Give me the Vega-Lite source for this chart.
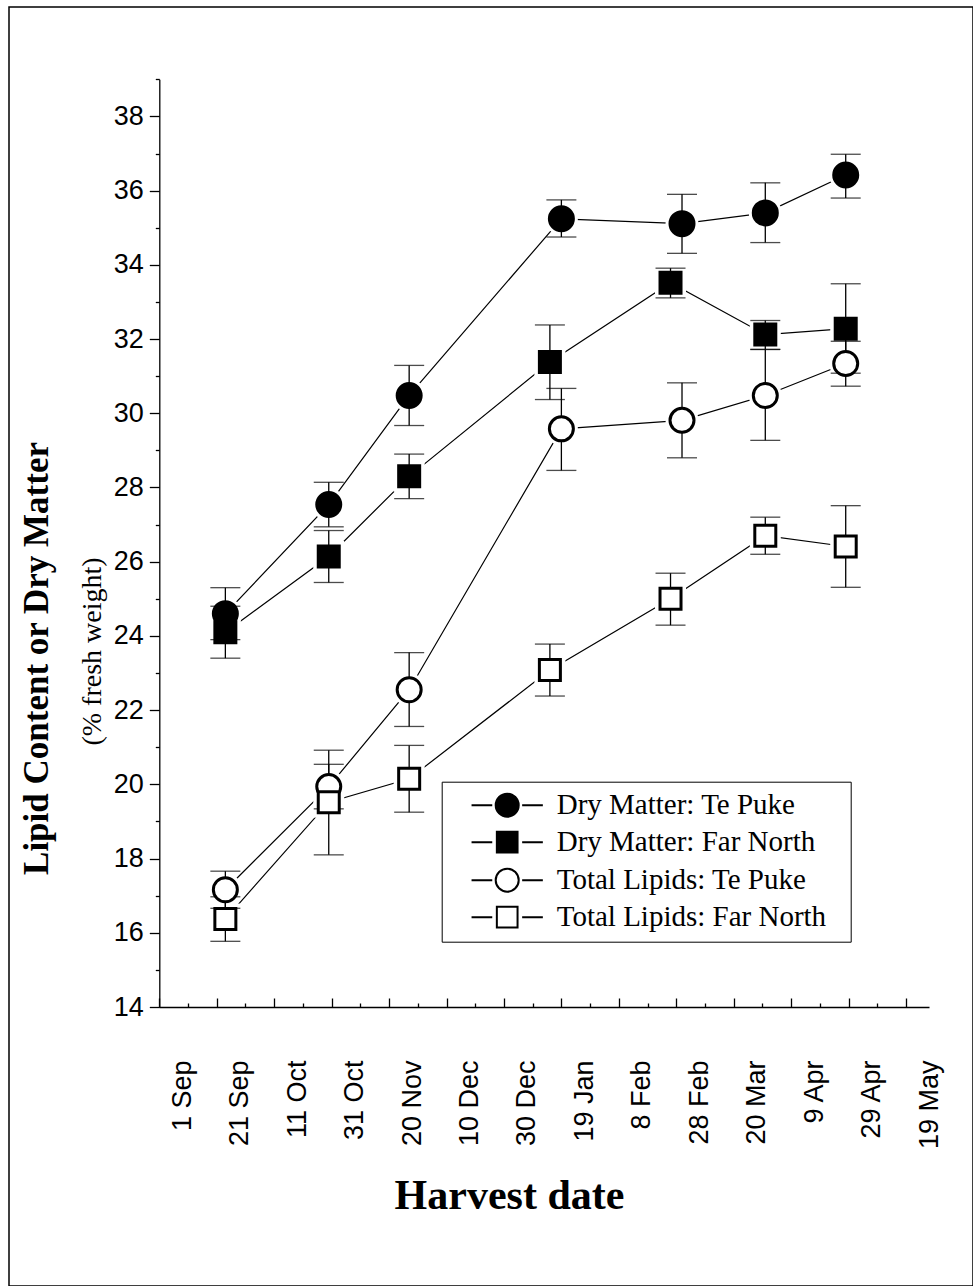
{
  "$schema": "https://vega.github.io/schema/vega-lite/v6.json",
  "width": 964,
  "height": 1279,
  "autosize": {"type": "none"},
  "padding": {"left": 9, "top": 7, "right": 0, "bottom": 0},
  "background": "white",
  "config": {
    "font": "Liberation Sans",
    "view": {"stroke": "black", "strokeWidth": 1.5},
    "axis": {"grid": false, "domainColor": "black", "domainWidth": 1.3, "tickColor": "black", "tickWidth": 1.3, "labelColor": "black", "titleColor": "black"},
    "legend": {
      "orient": "none", "legendX": 432.7, "legendY": 774.7, "strokeColor": "black", "fillColor": "white",
      "padding": 9, "symbolOffset": 42, "labelOffset": 35, "symbolSize": 529, "symbolStrokeColor": "black", "symbolStrokeWidth": 2,
      "symbolOpacity": 1, "labelFont": "Liberation Serif", "labelFontSize": 29, "labelColor": "black", "labelLimit": 600, "rowPadding": 7,
      "titleOrient": "right", "titlePadding": 16, "titleFontSize": 8, "titleColor": "white"
    }
  },
  "data": {
    "values": [
      {"series": "Dry Matter: Te Puke", "date": "1998-09-16", "value": 24.6, "low": 23.9, "high": 25.3},
      {"series": "Dry Matter: Te Puke", "date": "1998-10-22", "value": 27.54, "low": 26.94, "high": 28.14},
      {"series": "Dry Matter: Te Puke", "date": "1998-11-19", "value": 30.48, "low": 29.67, "high": 31.29},
      {"series": "Dry Matter: Te Puke", "date": "1999-01-11", "value": 35.24, "low": 34.75, "high": 35.75},
      {"series": "Dry Matter: Te Puke", "date": "1999-02-22", "value": 35.11, "low": 34.31, "high": 35.9},
      {"series": "Dry Matter: Te Puke", "date": "1999-03-23", "value": 35.4, "low": 34.6, "high": 36.21},
      {"series": "Dry Matter: Te Puke", "date": "1999-04-20", "value": 36.42, "low": 35.8, "high": 36.98},
      {"series": "Dry Matter: Far North", "date": "1998-09-16", "value": 24.1, "low": 23.4, "high": 24.8},
      {"series": "Dry Matter: Far North", "date": "1998-10-22", "value": 26.14, "low": 25.44, "high": 26.84},
      {"series": "Dry Matter: Far North", "date": "1998-11-19", "value": 28.3, "low": 27.7, "high": 28.9},
      {"series": "Dry Matter: Far North", "date": "1999-01-07", "value": 31.38, "low": 30.37, "high": 32.38},
      {"series": "Dry Matter: Far North", "date": "1999-02-18", "value": 33.52, "low": 33.11, "high": 33.91},
      {"series": "Dry Matter: Far North", "date": "1999-03-23", "value": 32.12, "low": 31.72, "high": 32.5},
      {"series": "Dry Matter: Far North", "date": "1999-04-20", "value": 32.28, "low": 31.08, "high": 33.49},
      {"series": "Total Lipids: Te Puke", "date": "1998-09-16", "value": 17.16, "low": 16.66, "high": 17.66},
      {"series": "Total Lipids: Te Puke", "date": "1998-10-22", "value": 19.94, "low": 19.34, "high": 20.54},
      {"series": "Total Lipids: Te Puke", "date": "1998-11-19", "value": 22.55, "low": 21.56, "high": 23.55},
      {"series": "Total Lipids: Te Puke", "date": "1999-01-11", "value": 29.58, "low": 28.46, "high": 30.67},
      {"series": "Total Lipids: Te Puke", "date": "1999-02-22", "value": 29.81, "low": 28.8, "high": 30.82},
      {"series": "Total Lipids: Te Puke", "date": "1999-03-23", "value": 30.48, "low": 29.27, "high": 31.72},
      {"series": "Total Lipids: Te Puke", "date": "1999-04-20", "value": 31.34, "low": 30.73, "high": 31.94},
      {"series": "Total Lipids: Far North", "date": "1998-09-16", "value": 16.37, "low": 15.77, "high": 16.97},
      {"series": "Total Lipids: Far North", "date": "1998-10-22", "value": 19.52, "low": 18.1, "high": 20.92},
      {"series": "Total Lipids: Far North", "date": "1998-11-19", "value": 20.15, "low": 19.25, "high": 21.05},
      {"series": "Total Lipids: Far North", "date": "1999-01-07", "value": 23.08, "low": 22.38, "high": 23.78},
      {"series": "Total Lipids: Far North", "date": "1999-02-18", "value": 25.0, "low": 24.29, "high": 25.69},
      {"series": "Total Lipids: Far North", "date": "1999-03-23", "value": 26.7, "low": 26.2, "high": 27.2},
      {"series": "Total Lipids: Far North", "date": "1999-04-20", "value": 26.41, "low": 25.31, "high": 27.51}
    ]
  },
  "layer": [
    {
      "mark": {"type": "line", "color": "black", "strokeWidth": 1.2},
      "encoding": {
        "x": {
          "field": "date", "type": "temporal",
          "scale": {"domain": [{"year": 1998, "month": 8, "date": 24}, {"year": 1999, "month": 5, "date": 19}], "range": [150.3, 920], "nice": false},
          "axis": {
            "orient": "bottom", "offset": -279, "tickCount": 200,
            "values": [
              {"year": 1998, "month": 8, "date": 24}, {"year": 1998, "month": 9, "date": 1}, {"year": 1998, "month": 9, "date": 3}, {"year": 1998, "month": 9, "date": 13},
              {"year": 1998, "month": 9, "date": 21}, {"year": 1998, "month": 9, "date": 23}, {"year": 1998, "month": 10, "date": 3}, {"year": 1998, "month": 10, "date": 11},
              {"year": 1998, "month": 10, "date": 13}, {"year": 1998, "month": 10, "date": 23}, {"year": 1998, "month": 10, "date": 31}, {"year": 1998, "month": 11, "date": 2},
              {"year": 1998, "month": 11, "date": 12}, {"year": 1998, "month": 11, "date": 20}, {"year": 1998, "month": 11, "date": 22}, {"year": 1998, "month": 12, "date": 2},
              {"year": 1998, "month": 12, "date": 10}, {"year": 1998, "month": 12, "date": 12}, {"year": 1998, "month": 12, "date": 22}, {"year": 1998, "month": 12, "date": 30},
              {"year": 1999, "month": 1, "date": 1}, {"year": 1999, "month": 1, "date": 11}, {"year": 1999, "month": 1, "date": 19}, {"year": 1999, "month": 1, "date": 21},
              {"year": 1999, "month": 1, "date": 31}, {"year": 1999, "month": 2, "date": 8}, {"year": 1999, "month": 2, "date": 10}, {"year": 1999, "month": 2, "date": 20},
              {"year": 1999, "month": 2, "date": 28}, {"year": 1999, "month": 3, "date": 2}, {"year": 1999, "month": 3, "date": 12}, {"year": 1999, "month": 3, "date": 20},
              {"year": 1999, "month": 3, "date": 22}, {"year": 1999, "month": 4, "date": 1}, {"year": 1999, "month": 4, "date": 9}, {"year": 1999, "month": 4, "date": 11},
              {"year": 1999, "month": 4, "date": 21}, {"year": 1999, "month": 4, "date": 29}, {"year": 1999, "month": 5, "date": 1}, {"year": 1999, "month": 5, "date": 11},
              {"year": 1999, "month": 5, "date": 19}
            ],
            "labelExpr": "(round((datum.value - datetime(1998,8,1))/86400000)) % 20 == 0 ? timeFormat(datum.value, '%-d %b') : ''",
            "tickSize": {
              "condition": [
                {"test": "(round((datum.value - datetime(1998,8,1))/86400000) + 8) % 20 == 0", "value": -9},
                {"test": "(round((datum.value - datetime(1998,8,1))/86400000) + 8) % 10 == 0", "value": -4}
              ],
              "value": 0
            },
            "labelAngle": 270, "labelFont": "Liberation Sans", "labelFontSize": 27, "labelPadding": 53,
            "labelOverlap": false, "labelFlush": false, "labelBound": false,
            "title": "Harvest date", "titleFont": "Liberation Serif", "titleFontSize": 42, "titleFontWeight": "bold",
            "titleX": 500, "titleY": 201, "titleBaseline": "alphabetic", "titleAlign": "center", "titleAngle": 0
          }
        },
        "y": {
          "field": "value", "type": "quantitative",
          "scale": {"domain": [14, 39], "range": [1000, 72.3], "nice": false, "zero": false},
          "axis": {
            "orient": "left", "offset": -150.3, "tickCount": 200, "format": "d",
            "values": [14, 15, 16, 17, 18, 19, 20, 21, 22, 23, 24, 25, 26, 27, 28, 29, 30, 31, 32, 33, 34, 35, 36, 37, 38, 39],
            "labelExpr": "datum.value % 2 == 0 ? datum.label : ''",
            "tickSize": {"condition": {"test": "datum.value % 2 == 0", "value": 10}, "value": 4},
            "labelFont": "Liberation Sans", "labelFontSize": 27, "labelPadding": 6, "labelOverlap": false, "labelFlush": false,
            "title": "(% fresh weight)", "titleFont": "Liberation Serif", "titleFontSize": 28, "titleFontWeight": "normal",
            "titleAngle": 270, "titleX": -66.6, "titleY": 644, "titleBaseline": "middle", "titleAlign": "center"
          }
        },
        "detail": {"field": "series"}
      }
    },
    {
      "mark": {"type": "point", "filled": true, "fill": "white", "strokeWidth": 0, "opacity": 1},
      "encoding": {
        "x": {"field": "date", "type": "temporal"},
        "y": {"field": "value", "type": "quantitative", "axis": null},
        "shape": {"condition": {"test": "indexof(datum.series, 'Te Puke') > 0", "value": "circle"}, "value": "square"},
        "size": {"condition": {"test": "indexof(datum.series, 'Te Puke') > 0", "value": 1089}, "value": 961}
      }
    },
    {
      "mark": {"type": "rule", "color": "black", "strokeWidth": 1.3},
      "encoding": {
        "x": {"field": "date", "type": "temporal"},
        "y": {"field": "low", "type": "quantitative", "axis": null},
        "y2": {"field": "high"}
      }
    },
    {
      "mark": {"type": "tick", "orient": "horizontal", "color": "black", "size": 30, "thickness": 1.3},
      "encoding": {
        "x": {"field": "date", "type": "temporal"},
        "y": {"field": "low", "type": "quantitative", "axis": null}
      }
    },
    {
      "mark": {"type": "tick", "orient": "horizontal", "color": "black", "size": 30, "thickness": 1.3},
      "encoding": {
        "x": {"field": "date", "type": "temporal"},
        "y": {"field": "high", "type": "quantitative", "axis": null}
      }
    },
    {
      "mark": {"type": "point", "filled": true, "stroke": "black", "strokeWidth": 3, "opacity": 1},
      "encoding": {
        "x": {"field": "date", "type": "temporal"},
        "y": {
          "field": "value", "type": "quantitative",
          "axis": {
            "orient": "left", "offset": -150.3, "domain": false, "ticks": false, "labels": false,
            "title": "Lipid Content or Dry Matter", "titleFont": "Liberation Serif", "titleFontSize": 35, "titleFontWeight": "bold",
            "titleAngle": 270, "titleX": -123.3, "titleY": 651, "titleBaseline": "middle", "titleAlign": "center"
          }
        },
        "shape": {"condition": {"test": "indexof(datum.series, 'Te Puke') > 0", "value": "circle"}, "value": "square"},
        "size": {"condition": {"test": "indexof(datum.series, 'Te Puke') > 0", "value": 576}, "value": 441},
        "fill": {"condition": {"test": "indexof(datum.series, 'Dry') == 0", "value": "black"}, "value": "white"}
      }
    },
    {
      "mark": {"type": "point", "filled": false, "strokeWidth": 2, "opacity": 0},
      "encoding": {
        "x": {"field": "date", "type": "temporal"},
        "y": {"field": "value", "type": "quantitative", "axis": null},
        "shape": {
          "field": "series", "type": "nominal",
          "scale": {
            "domain": ["Dry Matter: Te Puke", "Dry Matter: Far North", "Total Lipids: Te Puke", "Total Lipids: Far North"],
            "range": [
              "M-3.1,0H-1.3M1.3,0H3.1M-1,0A1,1,0,1,0,1,0A1,1,0,1,0,-1,0Z",
              "M-3.1,0H-1.3M1.3,0H3.1M-0.9,-0.9H0.9V0.9H-0.9Z",
              "M-3.1,0H-1.3M1.3,0H3.1M-1,0A1,1,0,1,0,1,0A1,1,0,1,0,-1,0Z",
              "M-3.1,0H-1.3M1.3,0H3.1M-0.9,-0.9H0.9V0.9H-0.9Z"
            ]
          },
          "legend": {"title": "\u00a0"}
        },
        "fill": {
          "field": "series", "type": "nominal",
          "scale": {
            "domain": ["Dry Matter: Te Puke", "Dry Matter: Far North", "Total Lipids: Te Puke", "Total Lipids: Far North"],
            "range": ["black", "black", "white", "white"]
          },
          "legend": {"title": "\u00a0"}
        },
        "stroke": {
          "field": "series", "type": "nominal",
          "scale": {
            "domain": ["Dry Matter: Te Puke", "Dry Matter: Far North", "Total Lipids: Te Puke", "Total Lipids: Far North"],
            "range": ["black", "black", "black", "black"]
          },
          "legend": {"title": "\u00a0"}
        }
      }
    }
  ],
  "resolve": {"axis": {"y": "independent"}}
}
